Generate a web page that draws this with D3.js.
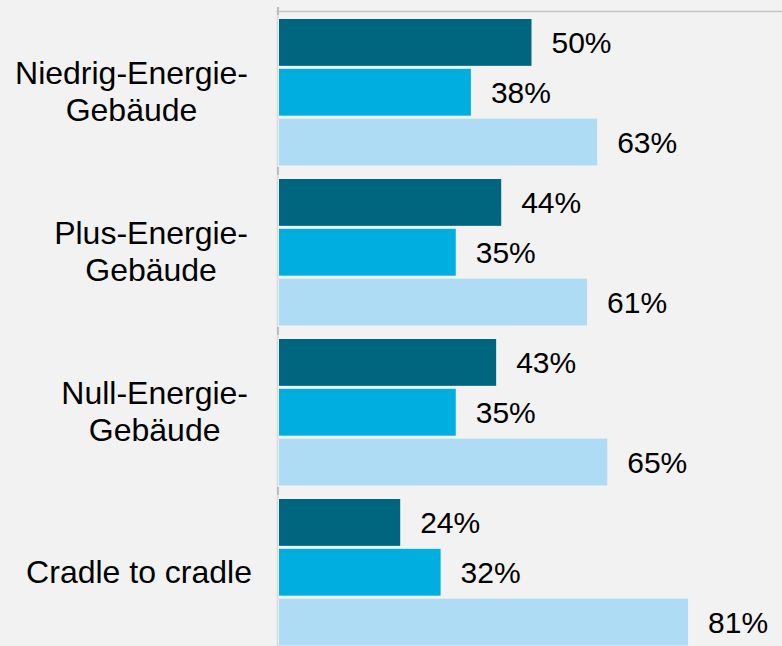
<!DOCTYPE html>
<html>
<head>
<meta charset="utf-8">
<script src="https://cdn.jsdelivr.net/npm/d3@7"></script>
<style>
  html, body { margin: 0; padding: 0; background: #f2f2f2; }
  svg { display: block; }
  text { font-family: "Liberation Sans", Arial, sans-serif; fill: #000; }
</style>
</head>
<body>
<svg id="chart" width="782" height="646"></svg>
<script>
// Building concepts (one band each, label lines split on "\n")
const categories = [
  "Niedrig-Energie-\nGebäude",
  "Plus-Energie-\nGebäude",
  "Null-Energie-\nGebäude",
  "Cradle to cradle"
];
// Shares in percent, three series per concept
const seriesDark  = [50, 44, 43, 24];
const seriesMid   = [38, 35, 35, 32];
const seriesLight = [63, 61, 65, 81];
const seriesColors = ["#00667f", "#00afdf", "#afdcf5"];

const W = 782, H = 646;
const svg = d3.select("#chart");

const plotTop = 11, axisX = 277.5;
const y = d3.scaleBand().domain(categories).range([plotTop, plotTop + 640]);
const inner = d3.scaleBand().domain([0, 1, 2]).range([8, 154.5]).paddingInner(0.06);
const x = d3.scaleLinear().domain([0, 100]).range([279, 784]);

const allSeries = [seriesDark, seriesMid, seriesLight];

// plot frame: top border and value axis line
svg.append("line")
  .attr("x1", axisX - 1).attr("x2", W)
  .attr("y1", plotTop + 0.5).attr("y2", plotTop + 0.5)
  .attr("stroke", "#c6c6c6").attr("stroke-width", 1.5);
svg.append("line")
  .attr("x1", axisX).attr("x2", axisX)
  .attr("y1", plotTop).attr("y2", H)
  .attr("stroke", "#d9d9d9").attr("stroke-width", 1.5);

// tick marks at category boundaries
const bounds = categories.map(c => y(c)).concat([y(categories[categories.length - 1]) + y.bandwidth()]);
svg.append("g").selectAll("line")
  .data(bounds)
  .join("line")
  .attr("x1", axisX + 0.5).attr("x2", axisX + 0.5)
  .attr("y1", d => d - 4).attr("y2", d => d + 4)
  .attr("stroke", "#bdbdbd").attr("stroke-width", 2);

// bars and value labels
const groups = svg.append("g").selectAll("g")
  .data(categories)
  .join("g")
  .attr("transform", c => `translate(0,${y(c)})`);

groups.each(function(c, ci) {
  const g = d3.select(this);
  const vals = allSeries.map(s => s[ci]);
  g.selectAll("rect")
    .data(vals)
    .join("rect")
    .attr("x", x(0))
    .attr("y", (d, i) => inner(i))
    .attr("width", d => x(d) - x(0))
    .attr("height", inner.bandwidth())
    .attr("fill", (d, i) => seriesColors[i]);
  g.selectAll("text.val")
    .data(vals)
    .join("text")
    .attr("class", "val")
    .attr("x", d => x(d) + 20)
    .attr("y", (d, i) => inner(i) + inner.bandwidth() / 2)
    .attr("dy", "0.36em")
    .attr("font-size", 30)
    .text(d => d + "%");
});

// category labels: lines centred within a block that ends near the axis
const labelRight = 250, lineH = 37;
categories.forEach(c => {
  const lines = c.split("\n");
  const t = svg.append("text")
    .attr("font-size", 32)
    .attr("text-anchor", "middle");
  const cy = y(c) + y.bandwidth() / 2;
  const first = cy - (lines.length - 1) * lineH / 2;
  const spans = lines.map((ln, i) => t.append("tspan")
    .attr("y", first + i * lineH)
    .attr("dy", "0.36em")
    .text(ln));
  const maxW = d3.max(spans, s => s.node().getComputedTextLength());
  const right = lines.length > 1 ? labelRight - 2 : labelRight + 2;
  spans.forEach(s => s.attr("x", right - maxW / 2));
});
</script>
</body>
</html>
